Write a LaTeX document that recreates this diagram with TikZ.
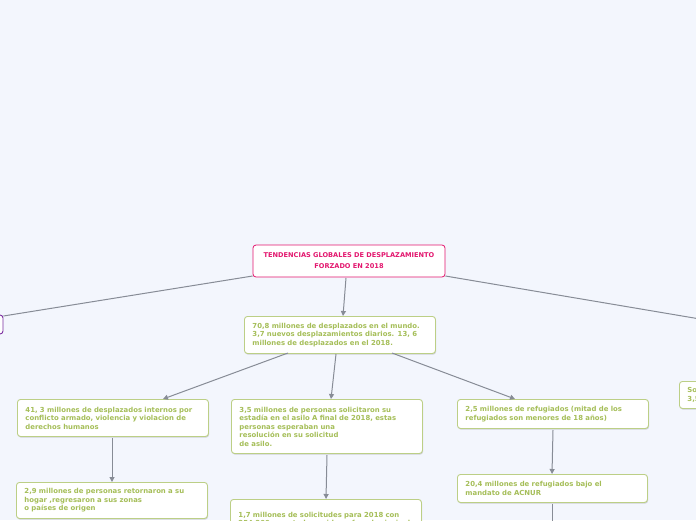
\documentclass[tikz,border=0pt]{standalone}
\usepackage{fontspec}
\setmainfont{DejaVu Sans}
\usetikzlibrary{arrows.meta,shadows}
\definecolor{bg}{HTML}{F3F6FD}
\definecolor{pinkc}{HTML}{E3166E}
\definecolor{greenb}{HTML}{BCCF86}
\definecolor{greent}{HTML}{A5BE58}
\definecolor{purp}{HTML}{7B2FA0}
\definecolor{linec}{HTML}{878C96}
\tikzset{
  box/.style={draw=greenb, line width=0.9pt, fill=white, rounded corners=3pt,
    text=greent, font=\bfseries\fontsize{6.9}{8.5}\selectfont, align=left,
    anchor=north west, inner xsep=8pt, inner ysep=0pt,
    drop shadow={shadow xshift=0.6pt, shadow yshift=-1.2pt, opacity=0.25, fill=black!60}},
  rootbox/.style={draw=pinkc, line width=0.8pt, fill=white, rounded corners=3pt,
    text=pinkc, font=\bfseries\fontsize{6.6}{11}\selectfont, align=center},
  conn/.style={draw=linec, line width=1pt, -{Triangle[length=5pt,width=5pt]}},
  plain/.style={draw=linec, line width=1pt},
}
\begin{document}
\begin{tikzpicture}[x=1pt,y=-1pt]
\fill[bg] (0,0) rectangle (696,520);
\useasboundingbox (0,0) rectangle (696,520);
\clip (0,0) rectangle (696,520);
% root
\node[rootbox, minimum width=192pt, minimum height=32pt] (root) at (349,261)
  {TENDENCIAS GLOBALES DE DESPLAZAMIENTO\\FORZADO EN 2018};
% A
\node[box, text width=175pt, minimum height=37pt] (a) at (244,316)
  {70,8 millones de desplazados en el mundo.\\3,7 nuevos desplazamientos diarios. 13, 6\\millones de desplazados en el 2018.};
% B level
\node[box, text width=175pt, minimum height=37pt] (b1) at (17,399)
  {41, 3 millones de desplazados internos por\\conflicto armado, violencia y violacion de\\derechos humanos};
\node[box, text width=175pt, minimum height=54pt] (b2) at (231,399)
  {3,5 millones de personas solicitaron su\\estadía en el asilo A final de 2018, estas\\personas esperaban una\\resolución en su solicitud\\de asilo.};
\node[box, text width=175pt, minimum height=29pt] (b3) at (457,399)
  {2,5 millones de refugiados (mitad de los\\refugiados son menores de 18 años)};
% C level
\node[box, text width=175pt, minimum height=36pt] (c1) at (16,482)
  {2,9 millones de personas retornaron a su\\hogar ,regresaron a sus zonas\\o países de origen};
\node[box, text width=175pt, minimum height=40pt, anchor=north west, inner ysep=2pt] (c2) at (230,499)
  {1,7 millones de solicitudes para 2018 con\\254.300 en estados unidos y fue el principal};
\node[box, text width=174pt, minimum height=28pt] (c3) at (457,474)
  {20,4 millones de refugiados bajo el\\mandato de ACNUR};
% partial side nodes
\node[box, text width=175pt, minimum height=27pt] (r) at (679,381)
  {So\\3,5};
\node[draw=purp, line width=0.9pt, fill=white, rounded corners=3pt, minimum width=192pt, minimum height=19pt] (l) at (-93,324.5) {};
\coordinate (cdown) at (552,522);
\coordinate (redge) at (700,319);
% connectors
\draw[plain] (root.west |- 0,276) -- (l.east |- 0,316);
\draw[plain] (root.east |- 0,276) -- (redge);
\draw[conn] (346,278) -- (a.north -| 343,0);
\draw[conn] (288,353) -- (163,399);
\draw[conn] (336,354) -- (331,399);
\draw[conn] (392,353) -- (515,399);
\draw[conn] (b1.south -| 112,0) ++(0,1) -- (c1.north -| 112,0);
\draw[conn] (327,455) -- (326,499);
\draw[conn] (553,430) -- (552,474);
\draw[plain] (c3.south -| 552,0) ++(0,1) -- (cdown);
\end{tikzpicture}
\end{document}
